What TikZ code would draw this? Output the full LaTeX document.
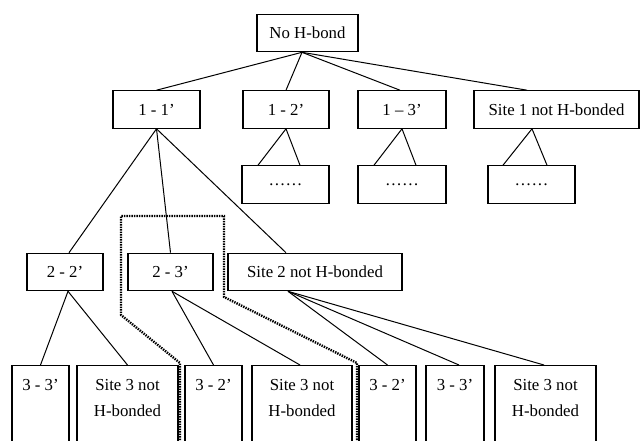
\documentclass[tikz,border=0pt]{standalone}
\usepackage{fontspec}
\setmainfont{Liberation Serif}
\usetikzlibrary{positioning}

\begin{document}
\begin{tikzpicture}[x=1pt, y=-1pt,
                        every node/.style={font=\fontsize{16.8}{26}\selectfont, align=center},
                        box/.style={draw, line width=1.1pt, inner sep=0pt, minimum height=37.5pt},
                        leaf/.style={draw, line width=1.1pt, inner sep=0pt, anchor=north, minimum height=100pt},
                        leaftext/.style={anchor=north, inner sep=0pt, yshift=-14pt},
                        branch/.style={draw, line width=1pt},
                        route/.style={line width=2.4pt, dash pattern=on 1.4pt off 1.1pt}]

        \useasboundingbox (0,0) rectangle (640,440);
        \clip (0,0) rectangle (640,440);

        % Root node
        \node[box, minimum width=101pt] (root) at (307.5,33) {No H-bond};

        % First level
        \node[box, minimum width=87pt]  (b11) at (156.5,109.5) {1 - 1’};
        \node[box, minimum width=86pt]  (b12) at (286,109.5)   {1 - 2’};
        \node[box, minimum width=88pt]  (b13) at (402,109.5)   {1 – 3’};
        \node[box, minimum width=165pt] (b1n) at (556.5,109.5) {Site 1 not H-bonded};

        % Unexpanded branches
        \node[box, minimum width=87pt] (d12) at (285.5,184.5) {……};
        \node[box, minimum width=88pt] (d13) at (402,184.5)   {……};
        \node[box, minimum width=87pt] (d1n) at (531.5,184.5) {……};

        % Second level
        \node[box, minimum width=76pt]  (b22) at (65,272)    {2 - 2’};
        \node[box, minimum width=85pt]  (b23) at (170.5,272) {2 - 3’};
        \node[box, minimum width=174pt] (b2n) at (315,272)   {Site 2 not H-bonded};

        % Third level
        \node[leaf, minimum width=57pt,  label={[leaftext]north:3 - 3’}] (c1) at (40.5,365) {};
        \node[leaf, minimum width=101pt, label={[leaftext]north:Site 3 not\\H-bonded}] (c2) at (127.5,365) {};
        \node[leaf, minimum width=57pt,  label={[leaftext]north:3 - 2’}] (c3) at (213.5,365) {};
        \node[leaf, minimum width=100pt, label={[leaftext]north:Site 3 not\\H-bonded}] (c4) at (302,365) {};
        \node[leaf, minimum width=57pt,  label={[leaftext]north:3 - 2’}] (c5) at (387.5,365) {};
        \node[leaf, minimum width=58pt,  label={[leaftext]north:3 - 3’}] (c6) at (455,365) {};
        \node[leaf, minimum width=101pt, label={[leaftext]north:Site 3 not\\H-bonded}] (c7) at (545.5,365) {};

        % Edges
        \draw[branch] ([xshift=-5.5pt]root.south) -- (b11.north);
        \draw[branch] ([xshift=-5.5pt]root.south) -- (b12.north);
        \draw[branch] ([xshift=-5.5pt]root.south) -- ([xshift=-2pt]b13.north);
        \draw[branch] ([xshift=-5.5pt]root.south) -- ([xshift=-29.5pt]b1n.north);

        \draw[branch] (b12.south) -- ([xshift=-27.5pt]d12.north);
        \draw[branch] (b12.south) -- ([xshift=14.5pt]d12.north);
        \draw[branch] (b13.south) -- ([xshift=-28pt]d13.north);
        \draw[branch] (b13.south) -- ([xshift=14pt]d13.north);
        \draw[branch] ([xshift=-24.5pt]b1n.south) -- ([xshift=-28.5pt]d1n.north);
        \draw[branch] ([xshift=-24.5pt]b1n.south) -- ([xshift=15.5pt]d1n.north);

        \draw[branch] (b11.south) -- ([xshift=4pt]b22.north);
        \draw[branch] (b11.south) -- (b23.north);
        \draw[branch] (b11.south) -- ([xshift=-29pt]b2n.north);

        \draw[branch] ([xshift=3pt]b22.south) -- (c1.north);
        \draw[branch] ([xshift=3pt]b22.south) -- (c2.north);
        \draw[branch] ([xshift=1.5pt]b23.south) -- (c3.north);
        \draw[branch] ([xshift=1.5pt]b23.south) -- ([xshift=-2pt]c4.north);
        \draw[branch] ([xshift=-27pt]b2n.south) -- (c5.north);
        \draw[branch] ([xshift=-27pt]b2n.south) -- ([xshift=4pt]c6.north);
        \draw[branch] ([xshift=-27pt]b2n.south) -- ([xshift=-1.5pt]c7.north);

        % Dotted route round 2 - 3'
        \draw[route] (180,445) -- (180,363) -- (121,315) -- (121,216)
            -- (224,216) -- (224,297) -- (357,363) -- (357,445);

    \end{tikzpicture}
\end{document}
